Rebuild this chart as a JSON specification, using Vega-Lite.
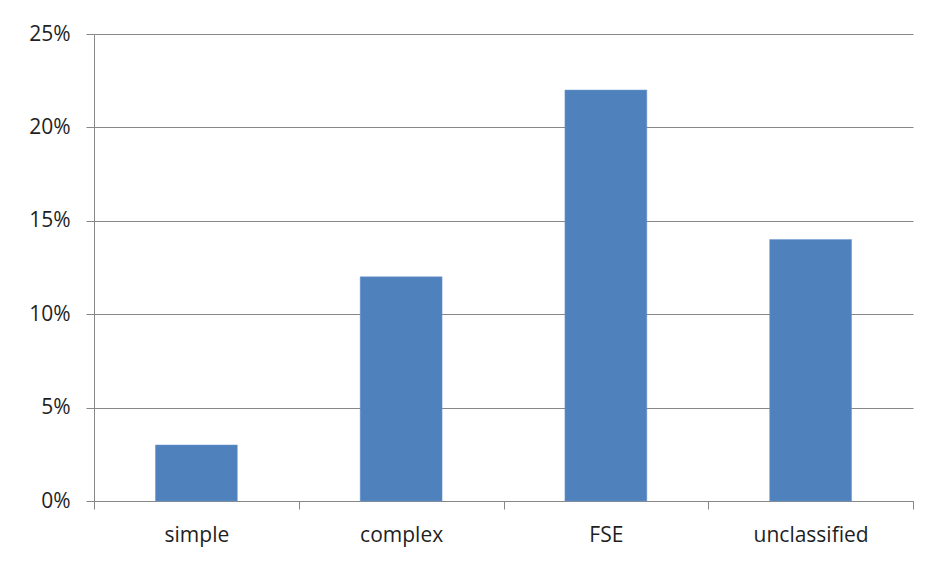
{
  "$schema": "https://vega.github.io/schema/vega-lite/v6.json",
  "width": 819,
  "height": 467,
  "autosize": {"type": "none"},
  "padding": {"left": 94, "top": 34, "right": 21, "bottom": 65},
  "background": "white",
  "data": {"values": [
    {"category": "simple", "share": 0.03},
    {"category": "complex", "share": 0.12},
    {"category": "FSE", "share": 0.22},
    {"category": "unclassified", "share": 0.14}
  ]},
  "mark": {"type": "bar", "color": "#4F81BD", "stroke": "#6f9bd0", "strokeWidth": 0.5, "width": {"band": 0.4}},
  "encoding": {
    "x": {
      "field": "category", "type": "nominal", "sort": null,
      "scale": {"paddingInner": 0, "paddingOuter": 0},
      "axis": {"title": null, "labelAngle": 0, "tickBand": "extent", "tickSize": 8, "labelPadding": 15, "grid": false}
    },
    "y": {
      "field": "share", "type": "quantitative",
      "scale": {"domain": [0, 0.25], "nice": false},
      "axis": {"title": null, "format": ".0%", "values": [0, 0.05, 0.1, 0.15, 0.2, 0.25], "tickSize": 8, "labelPadding": 16, "grid": true}
    }
  },
  "config": {
    "view": {"stroke": null},
    "axis": {
      "domainColor": "#878787", "tickColor": "#878787", "gridColor": "#878787",
      "domainWidth": 1, "tickWidth": 1, "gridWidth": 1,
      "labelFont": "Open Sans", "labelFontSize": 21, "labelColor": "#1f1f1f"
    }
  }
}
